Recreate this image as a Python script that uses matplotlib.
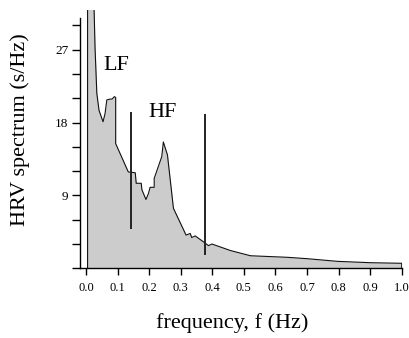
import matplotlib
matplotlib.use("Agg")
import matplotlib.pyplot as plt
import numpy as np

plt.rcParams['font.family'] = ['Liberation Serif', 'DejaVu Serif']

# HRV power spectrum
freq = [0.005, 0.015, 0.025, 0.0286, 0.031, 0.0343, 0.0413, 0.054, 0.0603, 0.066,
        0.0762, 0.0825, 0.0898, 0.094, 0.094, 0.134, 0.156, 0.159, 0.175, 0.177,
        0.19, 0.198, 0.203, 0.216, 0.216, 0.240, 0.245, 0.258, 0.277, 0.317,
        0.330, 0.335, 0.346, 0.378, 0.388, 0.399, 0.457, 0.521, 0.637, 0.70,
        0.796, 0.902, 1.0]
psd = [36.0, 35.0, 33.0, 27.3, 24.9, 21.6, 19.5, 18.1, 19.1, 20.8,
       20.9, 20.9, 21.2, 21.1, 15.4, 11.9, 11.8, 10.5, 10.5, 9.7,
       8.5, 9.26, 10.0, 10.0, 11.1, 13.8, 15.6, 14.0, 7.4, 4.1,
       4.3, 3.8, 4.0, 3.1, 2.8, 3.0, 2.2, 1.55, 1.36, 1.19,
       0.86, 0.69, 0.62]

# band markers (LF/HF boundaries)
band_f = [0.143, 0.378]
band_lo = [4.8, 1.7]
band_hi = [19.3, 19.1]

xticks = [0.0, 0.1, 0.2, 0.3, 0.4, 0.5, 0.6, 0.7, 0.8, 0.9, 1.0]
yticks = [0, 3, 6, 9, 12, 15, 18, 21, 24, 27, 30]
ylabeled = [9, 18, 27]

fig = plt.figure(figsize=(4.09, 3.38), dpi=100)
ax = fig.add_axes([0.1956, 0.2062, 0.7866, 0.7642])

f = np.array(freq)
p = np.array(psd)
ax.fill_between(f, 0, p, color='#cccccc', lw=0)
# outline incl. vertical edges at both ends
ax.plot(np.r_[f[0], f, f[-1]], np.r_[0, p, 0], color='#111111', lw=0.8)

ax.vlines(band_f, band_lo, band_hi, color='#222222', lw=1.4)

ax.text(0.055, 24.5, 'LF', fontsize=16, ha='left', va='baseline')
ax.text(0.198, 18.7, 'HF', fontsize=16, ha='left', va='baseline')

ax.set_xlim(-0.019, 1.0)
ax.set_ylim(0, 31.9)

ax.spines['top'].set_visible(False)
ax.spines['right'].set_visible(False)
ax.spines['left'].set_bounds(0, 30.9)
ax.spines['left'].set_linewidth(1.0)
ax.spines['bottom'].set_linewidth(1.0)

ax.set_xticks(xticks)
ax.set_xticklabels(['%.1f' % v for v in xticks])
ax.set_yticks(yticks)
ax.set_yticklabels([str(v) if v in ylabeled else '' for v in yticks])
ax.tick_params(axis='x', direction='out', length=5, width=1.0, labelsize=9, pad=5)
ax.tick_params(axis='y', direction='out', length=5.5, width=1.0, labelsize=9.5, pad=3)

ax.set_ylabel('HRV spectrum (s/Hz)', fontsize=16)
ax.set_xlabel('frequency, f (Hz)', fontsize=16)
ax.yaxis.set_label_coords(-0.187, 0.537)
ax.xaxis.set_label_coords(0.474, -0.212)
ax.xaxis.label.set_va('center')
ax.yaxis.label.set_va('center')

fig.savefig('out.png', dpi=100)
